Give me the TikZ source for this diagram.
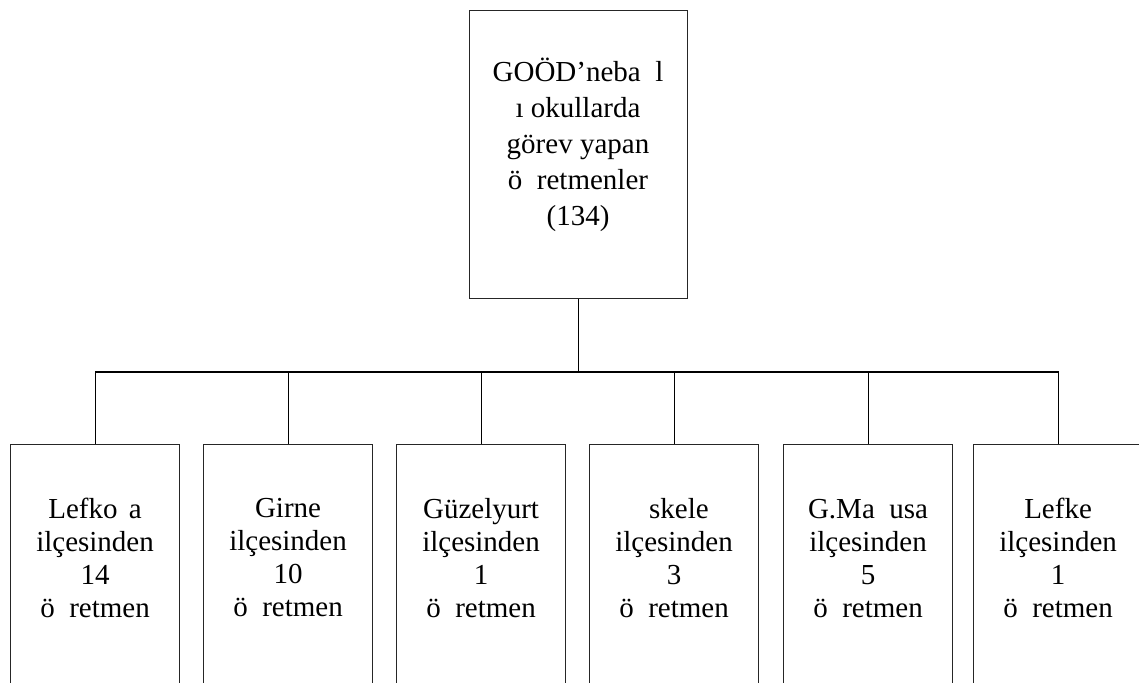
\documentclass[tikz,border=0pt]{standalone}
\usepackage{fontspec}
\setmainfont{Liberation Serif}
\begin{document}
\begin{tikzpicture}[x=1pt,y=-1pt,
  box/.style={draw=black!85, line width=1.1pt, rectangle, inner sep=0pt, anchor=north west},
  toptxt/.style={align=center, inner sep=0pt, font=\fontsize{29}{36}\selectfont},
  txt/.style={align=center, inner sep=0pt, font=\fontsize{29}{33}\selectfont},
  link/.style={draw=black, line width=1.1pt}]
\useasboundingbox (0,0) rectangle (1139,682);
\clip (0,0) rectangle (1139,682);

% head box
\node[box, minimum width=218, minimum height=288] (top) at (469,10) {};
\node[toptxt] (ttop) at (578,145) {GOÖD’neba\phantom{ğ}l\\ı okullarda\\görev yapan\\ö\phantom{ğ}retmenler\\(134)};

% district boxes (open at the bottom edge)
\node[box, minimum width=169, minimum height=300] (b1) at (10,444) {};
\node[box, minimum width=169, minimum height=300] (b2) at (203,444) {};
\node[box, minimum width=169, minimum height=300] (b3) at (396,444) {};
\node[box, minimum width=169, minimum height=300] (b4) at (589,444) {};
\node[box, minimum width=169, minimum height=300] (b5) at (783,444) {};
\node[box, minimum width=169, minimum height=300] (b6) at (973,444) {};

\node[txt] (t1) at (b1.north |- 0,561) {Lefko\phantom{s}a\\ilçesinden\\14\\ö\phantom{ğ}retmen};
\node[txt] (t2) at (b2.north |- 0,561) {Girne\\ilçesinden\\10\\ö\phantom{ğ}retmen};
\node[txt] (t3) at (b3.north |- 0,561) {Güzelyurt\\ilçesinden\\1\\ö\phantom{ğ}retmen};
\node[txt] (t4) at (b4.north |- 0,561) {\phantom{I}skele\\ilçesinden\\3\\ö\phantom{ğ}retmen};
\node[txt] (t5) at (b5.north |- 0,561) {G.Ma\phantom{ğ}usa\\ilçesinden\\5\\ö\phantom{ğ}retmen};
\node[txt] (t6) at (b6.north |- 0,561) {Lefke\\ilçesinden\\1\\ö\phantom{ğ}retmen};

% connectors
\coordinate (bus) at (top.south |- 0,372);
\draw[link] (top.south) -- (bus);
\draw[link] (b1.north) -- (b1.north |- bus) -- (b6.north |- bus) -- (b6.north);
\draw[link, line width=1.8pt] (b2.north |- bus) -- (b5.north |- bus);
\draw[link] (b2.north |- bus) -- (b2.north);
\draw[link] (b3.north |- bus) -- (b3.north);
\draw[link] (b4.north |- bus) -- (b4.north);
\draw[link] (b5.north |- bus) -- (b5.north);
\end{tikzpicture}
\end{document}
